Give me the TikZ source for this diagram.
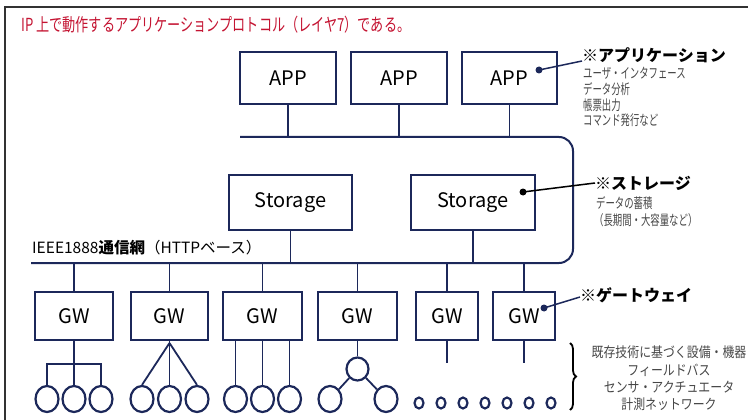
\documentclass[tikz,border=0pt]{standalone}
\usepackage{fontspec}
\setmainfont{Noto Sans CJK JP}
\newfontfamily\cjkn[FakeStretch=0.85]{Noto Sans CJK JP}
\newfontfamily\cjkt[FakeStretch=0.73]{Noto Sans CJK JP}
\newfontfamily\cjkc[FakeStretch=0.67]{Noto Sans CJK JP}
\usetikzlibrary{decorations.pathreplacing,shapes.geometric}
\definecolor{navy}{RGB}{28,40,90}
\definecolor{titlered}{RGB}{196,20,50}
\definecolor{subgray}{RGB}{70,70,70}
\definecolor{framecol}{RGB}{50,50,50}
\tikzset{
  box/.style={draw=navy, line width=1.9pt, fill=white, inner sep=0pt, font=\fontsize{20}{22}\selectfont},
  wire/.style={draw=navy, line width=1.8pt},
  bus/.style={draw=navy, line width=2pt, rounded corners=14pt},
  ell/.style={draw=navy, line width=2.2pt, ellipse, inner sep=0pt, minimum width=23pt, minimum height=26pt},
  small/.style={draw=navy, line width=2.2pt, ellipse, inner sep=0pt, minimum width=9pt, minimum height=11pt},
  dot/.style={circle, fill=navy, inner sep=0pt, minimum size=7pt},
  leader/.style={draw=navy, line width=1.5pt},
  head/.style={anchor=west, inner sep=0pt, font=\bfseries\fontsize{16}{18}\selectfont},
  sub/.style={anchor=west, inner sep=0pt, text=subgray, font=\cjkc\fontsize{14}{16}\selectfont},
  rsub/.style={inner sep=0pt, text=subgray, font=\cjkn\fontsize{14}{16}\selectfont}
}
\begin{document}
\begin{tikzpicture}[x=1pt, y=-1pt]
\useasboundingbox (0,0) rectangle (748,420);
% frame
\coordinate (fbl) at (5,420);
\coordinate (ftl) at (5,7);
\coordinate (ftr) at (748,7);
\draw[framecol, line width=1.2pt] (fbl) -- (ftl) -- (ftr);
% title
\node[anchor=west, inner sep=0pt, text=titlered, font=\cjkt\fontsize{18}{20}\selectfont] (title) at (21,25) {IP 上で動作するアプリケーションプロトコル（レイヤ7）である。};
% bus
\coordinate (busTL) at (240,137);
\coordinate (busTR) at (573,137);
\coordinate (busBR) at (573,263);
\coordinate (busBL) at (31,263);
\draw[bus] (busTL) -- (busTR) -- (busBR) -- (busBL);
% APP
\node[box, minimum width=96pt, minimum height=52pt] (app1) at (288,78) {APP};
\node[box, minimum width=96pt, minimum height=52pt] (app2) at (399,78) {APP};
\node[box, minimum width=95pt, minimum height=52pt] (app3) at (509.5,78) {APP};
\foreach \n in {app1,app2,app3} \draw[wire] (\n.south) -- (\n.south |- busTL);
% Storage
\node[box, minimum width=123pt, minimum height=55pt] (st1) at (290.5,202.5) {Storage};
\node[box, minimum width=124pt, minimum height=55pt] (st2) at (473,202.5) {Storage};
\foreach \n in {st1,st2} \draw[wire] (\n.south) -- (\n.south |- busBL);
% network label
\node[anchor=west, inner sep=0pt, font=\fontsize{15.5}{17}\selectfont] (net) at (32,248) {IEEE1888\textbf{通信網}（HTTPベース）};
% GW
\node[box, minimum width=78pt, minimum height=48pt] (gw1) at (74,316) {GW};
\node[box, minimum width=77pt, minimum height=48pt] (gw2) at (169.5,316) {GW};
\node[box, minimum width=79pt, minimum height=48pt] (gw3) at (262.5,316) {GW};
\node[box, minimum width=79pt, minimum height=48pt] (gw4) at (357.5,316) {GW};
\node[box, minimum width=62pt, minimum height=48pt] (gw5) at (447,316) {GW};
\node[box, minimum width=62pt, minimum height=48pt] (gw6) at (524,316) {GW};
\foreach \n in {gw1,gw2,gw3,gw4,gw5,gw6} \draw[wire] (\n.north) -- (\n.north |- busBL);
% group 1
\node[ell] (c11) at (47,399) {};
\node[ell] (c12) at (74,399) {};
\node[ell] (c13) at (101,399) {};
\coordinate (j1) at (74,364);
\draw[wire] (gw1.south) -- (j1);
\draw[wire] (c11.north) |- (j1) -| (c13.north);
\draw[wire] (c12.north) -- (j1);
% group 2
\node[ell] (c21) at (142,399) {};
\node[ell] (c22) at (169.5,399) {};
\node[ell] (c23) at (197,399) {};
\coordinate (a2) at (169.5,343);
\draw[wire] (gw2.south) -- (a2);
\draw[wire] (a2) -- (c21.north);
\draw[wire] (a2) -- (c22.north);
\draw[wire] (a2) -- (c23.north);
% group 3
\node[ell] (c31) at (235.5,399) {};
\node[ell] (c32) at (262.5,399) {};
\node[ell] (c33) at (289.5,399) {};
\foreach \n in {c31,c32,c33} \draw[wire] (\n.north) -- (\n.north |- gw3.south);
% group 4
\node[ell, minimum width=22pt, minimum height=23pt] (t4) at (357.5,369) {};
\node[ell] (c41) at (330,399) {};
\node[ell] (c42) at (386,399) {};
\draw[wire] (gw4.south) -- (t4.north);
\draw[wire] (t4) -- (c41);
\draw[wire] (t4) -- (c42);
% groups 5,6
\coordinate (e5) at (447,363);
\coordinate (e6) at (524,363);
\draw[wire] (gw5.south) -- (e5);
\draw[wire] (gw6.south) -- (e6);
\foreach \i [evaluate=\i as \xx using 419+22*\i] in {0,...,6} \node[small] (s\i) at (\xx,403) {};
% brace
\coordinate (br1) at (570,343);
\coordinate (br2) at (570,410);
\draw[black, line width=1.8pt, decorate, decoration={brace, amplitude=6pt}] (br1) -- (br2);
\node[rsub] (r1) at (669,352) {既存技術に基づく設備・機器};
\node[rsub] (r2) at (669,370) {フィールドバス};
\node[rsub] (r3) at (669,387) {センサ・アクチュエータ};
\node[rsub] (r4) at (669,404) {計測ネットワーク};
% annotations
\node[head] (lapp) at (582,55) {※アプリケーション};
\node[sub] (la1) at (583,73) {ユーザ・インタフェース};
\node[sub] (la2) at (583,89) {データ分析};
\node[sub] (la3) at (583,105) {帳票出力};
\node[sub] (la4) at (583,120) {コマンド発行など};
\node[dot] (d1) at (539,70) {};
\draw[leader] (d1.center) -- ([yshift=-6pt]lapp.west);
\node[head] (lst) at (595,183) {※ストレージ};
\node[sub] (ls1) at (596,203) {データの蓄積};
\node[sub] (ls2) at (594,220) {（長期間・大容量など）};
\node[dot, fill=black] (d2) at (523,192) {};
\draw[leader, draw=black] (d2.center) -- (lst.west);
\node[head] (lgw) at (580,295) {※ゲートウェイ};
\node[dot] (d3) at (544,308) {};
\draw[leader] (d3.center) -- ([yshift=-2pt]lgw.west);
\end{tikzpicture}
\end{document}
